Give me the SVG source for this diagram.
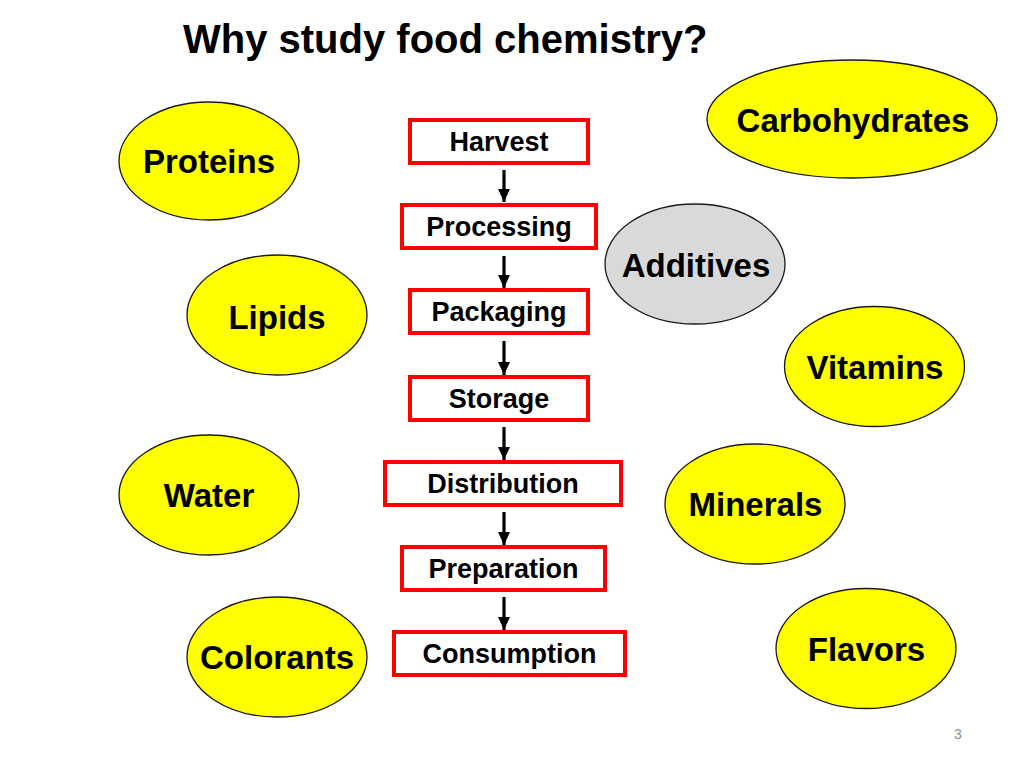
<svg xmlns="http://www.w3.org/2000/svg" width="1024" height="768" viewBox="0 0 1024 768">
<defs>
<style>
.bg{fill:#ffffff}
.title{font-family:"Liberation Sans",Arial,sans-serif;font-weight:bold;font-size:40px;fill:#000}
.box{fill:#ffffff;stroke:#ff0000;stroke-width:4}
.btxt{font-family:"Liberation Sans",Arial,sans-serif;font-weight:bold;font-size:27px;fill:#000;text-anchor:middle}
.ell{fill:#ffff00;stroke:#1a1a1a;stroke-width:1.3}
.ellg{fill:#d9d9d9;stroke:#1a1a1a;stroke-width:1.3}
.etxt{font-family:"Liberation Sans",Arial,sans-serif;font-weight:bold;font-size:33px;fill:#000;text-anchor:middle}
.arr{stroke:#000;stroke-width:3.2;fill:none;marker-end:url(#ah)}
.pg{font-family:"Liberation Sans",Arial,sans-serif;font-size:14px;fill:#8c8c8c;text-anchor:middle}
</style>
<marker id="ah" viewBox="0 0 13 12" refX="13" refY="6" markerWidth="13" markerHeight="12" markerUnits="userSpaceOnUse" orient="auto">
<path d="M0,0 L13,6 L0,12 z" fill="#000"/>
</marker>
</defs>
<rect class="bg" x="0" y="0" width="1024" height="768"/>
<text class="title" x="183" y="53">Why study food chemistry?</text>

<g id="harvest"><rect class="box" x="410" y="120" width="178" height="43"/><text class="btxt" x="499" y="151">Harvest</text></g>
<g id="processing"><rect class="box" x="402" y="205" width="194" height="43"/><text class="btxt" x="499" y="236">Processing</text></g>
<g id="packaging"><rect class="box" x="410" y="290" width="178" height="43"/><text class="btxt" x="499" y="321">Packaging</text></g>
<g id="storage"><rect class="box" x="410" y="377" width="178" height="43"/><text class="btxt" x="499" y="408">Storage</text></g>
<g id="distribution"><rect class="box" x="385" y="462" width="236" height="43"/><text class="btxt" x="503" y="493">Distribution</text></g>
<g id="preparation"><rect class="box" x="402" y="547" width="203" height="43"/><text class="btxt" x="503.5" y="578">Preparation</text></g>
<g id="consumption"><rect class="box" x="394" y="632" width="231" height="43"/><text class="btxt" x="509.5" y="663">Consumption</text></g>

<g id="connectors">
<line class="arr" x1="504" y1="170" x2="504" y2="202"/>
<line class="arr" x1="504" y1="256" x2="504" y2="288"/>
<line class="arr" x1="504" y1="341" x2="504" y2="375"/>
<line class="arr" x1="504" y1="427" x2="504" y2="460"/>
<line class="arr" x1="504" y1="512" x2="504" y2="545"/>
<line class="arr" x1="504" y1="597" x2="504" y2="630"/>
</g>

<g id="proteins"><ellipse class="ell" cx="209" cy="161" rx="90" ry="59"/><text class="etxt" x="209" y="173">Proteins</text></g>
<g id="lipids"><ellipse class="ell" cx="277" cy="315" rx="90" ry="60"/><text class="etxt" x="277" y="329">Lipids</text></g>
<g id="water"><ellipse class="ell" cx="209" cy="495" rx="90" ry="60"/><text class="etxt" x="209" y="507">Water</text></g>
<g id="colorants"><ellipse class="ell" cx="277" cy="657" rx="90" ry="60"/><text class="etxt" x="277" y="669">Colorants</text></g>
<g id="carbohydrates"><ellipse class="ell" cx="852" cy="119" rx="145" ry="59"/><text class="etxt" x="853" y="132">Carbohydrates</text></g>
<g id="additives"><ellipse class="ellg" cx="695" cy="264" rx="90" ry="60"/><text class="etxt" x="696" y="277">Additives</text></g>
<g id="vitamins"><ellipse class="ell" cx="874.5" cy="366.5" rx="90" ry="60"/><text class="etxt" x="875" y="379">Vitamins</text></g>
<g id="minerals"><ellipse class="ell" cx="755" cy="504" rx="90" ry="60"/><text class="etxt" x="755.5" y="516">Minerals</text></g>
<g id="flavors"><ellipse class="ell" cx="866" cy="648.5" rx="90" ry="60"/><text class="etxt" x="866.5" y="661">Flavors</text></g>

<text class="pg" x="958" y="739">3</text>
</svg>
